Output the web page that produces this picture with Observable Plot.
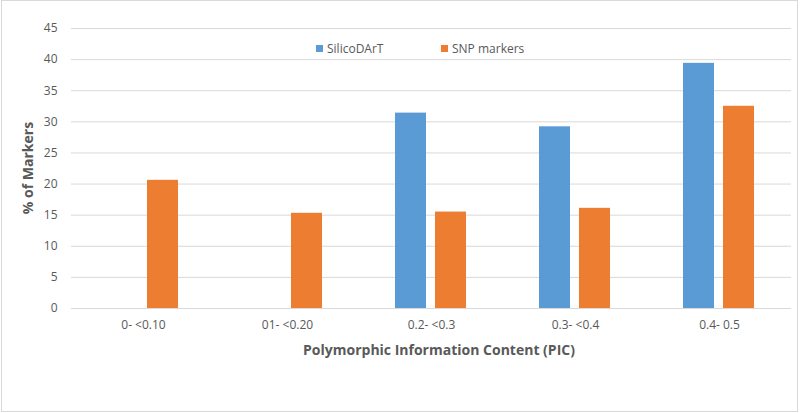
<!DOCTYPE html>
<html><head><meta charset="utf-8">
<script src="https://cdn.jsdelivr.net/npm/d3@7"></script>
<script src="https://cdn.jsdelivr.net/npm/@observablehq/plot@0.6"></script>
<style>
body{margin:0;background:#fff;font-family:"Open Sans",sans-serif;}
#wrap{position:relative;width:800px;height:413px;overflow:hidden;}
#wrap svg{position:absolute;left:0;top:0;}
.frame{position:absolute;left:1px;top:0px;width:795px;height:410px;border:1px solid #d9d9d9;pointer-events:none;}
.legend{position:absolute;top:40px;font-size:12px;color:#595959;white-space:nowrap;line-height:18px;}
.legend span.sw{display:inline-block;width:7px;height:7px;margin-right:4px;vertical-align:1px;}
.xtitle{position:absolute;left:439px;top:349px;transform:translate(-50%,-50%);font-weight:bold;font-size:14px;color:#595959;white-space:nowrap;}
.ytitle{position:absolute;left:27px;top:168px;transform:translate(-50%,-50%) rotate(-90deg);font-weight:bold;font-size:14px;color:#595959;white-space:nowrap;}
</style></head><body>
<div id="wrap"></div>
<script>
const categories = ["0- <0.10","01- <0.20","0.2- <0.3","0.3- <0.4","0.4- 0.5"];
const series = ["SilicoDArT","SNP markers"];
const silicoValues = [null,null,31.4,29.2,39.4];
const snpValues = [20.6,15.3,15.5,16.1,32.5];
const colors = ["#5B9BD5","#ED7D31"];
const yTicks = [0,5,10,15,20,25,30,35,40,45];
const xTitle = "Polymorphic Information Content (PIC)";
const yTitle = "% of Markers";

const data = categories.flatMap((c,i)=>[
  {cat:c, series:series[0], value:silicoValues[i]},
  {cat:c, series:series[1], value:snpValues[i]}
]).filter(d=>d.value!=null);

const chart = Plot.plot({
  width:800, height:413,
  marginLeft:69, marginRight:8, marginTop:28, marginBottom:105,
  style:{fontFamily:"Open Sans", fontSize:"12px", color:"#595959", background:"transparent"},
  fx:{domain:categories, padding:0, label:null, tickSize:0, tickPadding:12},
  x:{domain:series, axis:null, paddingInner:0.22, paddingOuter:0.873},
  y:{domain:[0,45], ticks:yTicks, label:null, tickSize:0, tickPadding:14},
  color:{domain:series, range:colors},
  marks:[
    Plot.gridY(yTicks,{stroke:"#d9d9d9", strokeOpacity:1}),
    Plot.barY(data,{fx:"cat", x:"series", y:"value", fill:"series"})
  ]
});
const wrap = document.getElementById("wrap");
wrap.appendChild(chart);

const legend = document.createElement("div");
legend.className="legend";
legend.style.left="316px";
legend.innerHTML = `<span class="sw" style="background:${colors[0]}"></span>${series[0]}`;
wrap.appendChild(legend);
const legend2 = document.createElement("div");
legend2.className="legend";
legend2.style.left="441px";
legend2.innerHTML = `<span class="sw" style="background:${colors[1]}"></span>${series[1]}`;
wrap.appendChild(legend2);

const xt = document.createElement("div"); xt.className="xtitle"; xt.textContent=xTitle; wrap.appendChild(xt);
const yt = document.createElement("div"); yt.className="ytitle"; yt.textContent=yTitle; wrap.appendChild(yt);
const fr = document.createElement("div"); fr.className="frame"; wrap.appendChild(fr);
</script>
</body></html>
